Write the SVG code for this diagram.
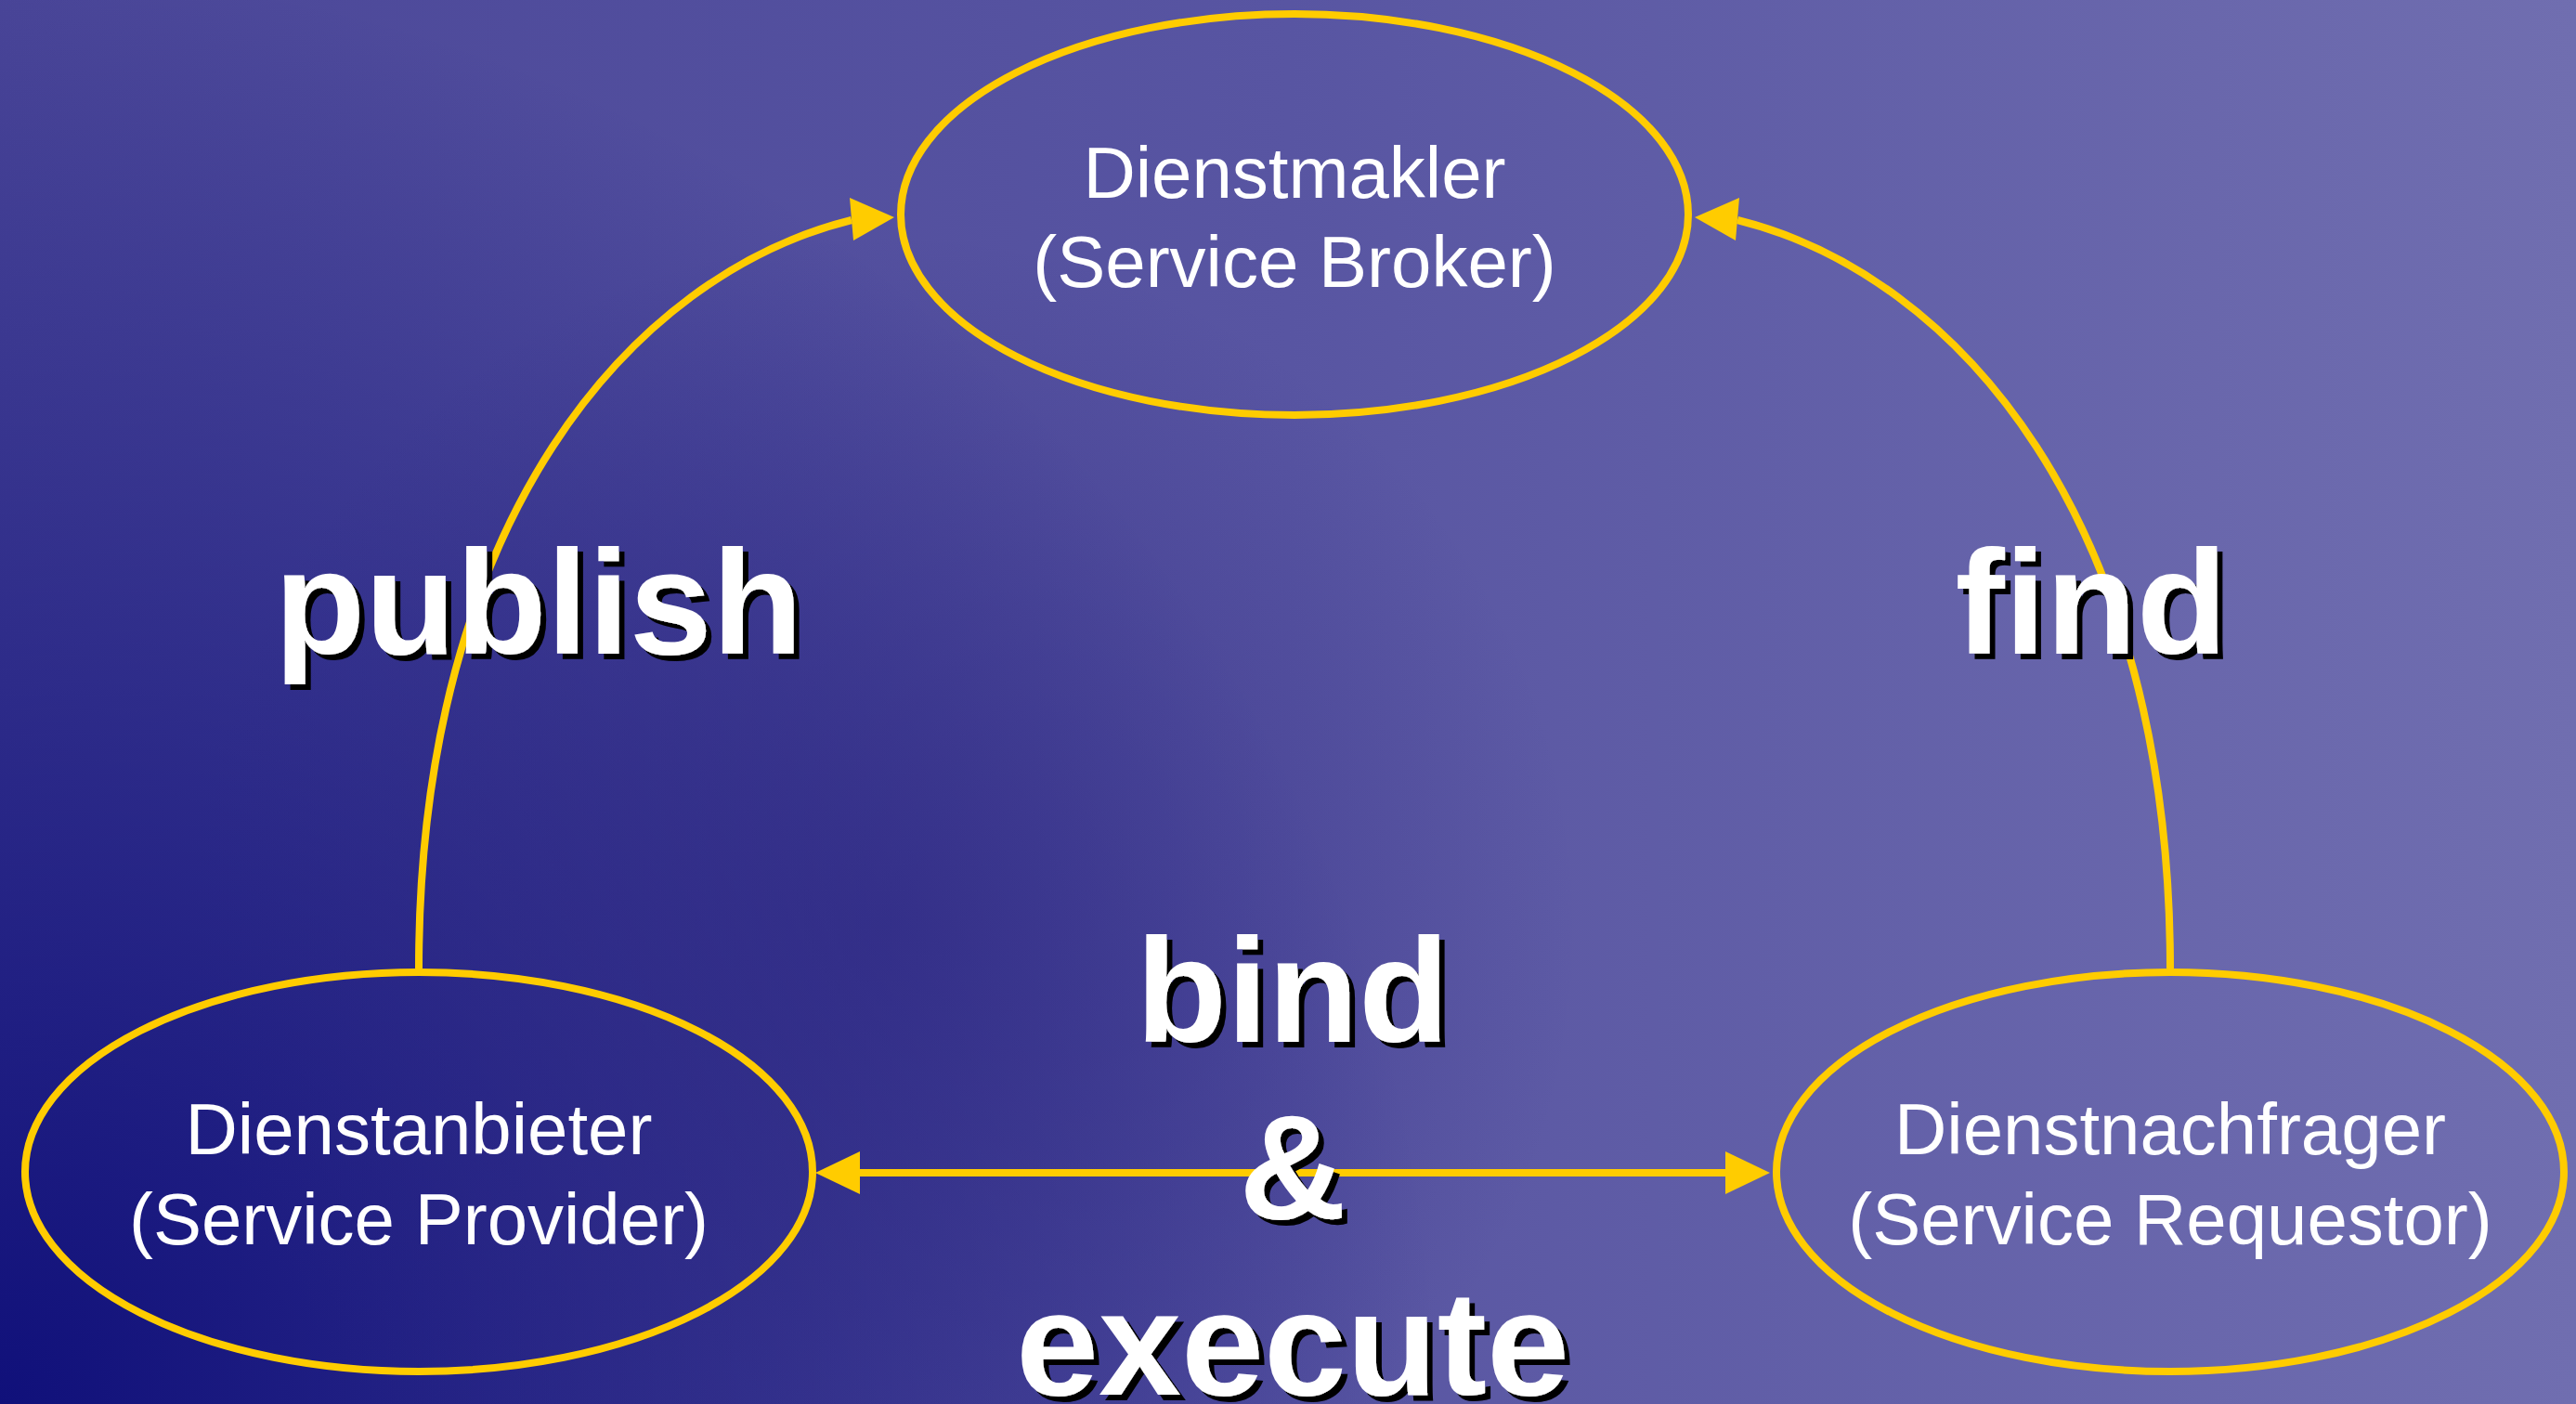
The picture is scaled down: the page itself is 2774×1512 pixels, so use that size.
<svg xmlns="http://www.w3.org/2000/svg" width="2774" height="1512" viewBox="0 0 2774 1512">
  <defs>
    <linearGradient id="bgBase" x1="0" y1="0" x2="2774" y2="0" gradientUnits="userSpaceOnUse">
      <stop offset="0" stop-color="#4a4698"/>
      <stop offset="0.5" stop-color="#5855a2"/>
      <stop offset="1" stop-color="#706eb0"/>
    </linearGradient>
    <radialGradient id="bgCorner" cx="0" cy="1512" r="1550" gradientUnits="userSpaceOnUse">
      <stop offset="0" stop-color="#10107a" stop-opacity="1"/>
      <stop offset="1" stop-color="#10107a" stop-opacity="0"/>
    </radialGradient>
    <radialGradient id="bgBlob" cx="950" cy="1000" r="750" gradientUnits="userSpaceOnUse">
      <stop offset="0" stop-color="#2a2480" stop-opacity="0.55"/>
      <stop offset="1" stop-color="#2a2480" stop-opacity="0"/>
    </radialGradient>
    <filter id="shadow" x="-10%" y="-10%" width="130%" height="130%">
      <feOffset in="SourceAlpha" dx="6" dy="6" result="off"/>
      <feMerge>
        <feMergeNode in="off"/>
        <feMergeNode in="SourceGraphic"/>
      </feMerge>
    </filter>
  </defs>
  <style>
    .node { fill: none; stroke: #ffcc00; stroke-width: 8; }
    .ntext { font-family: "Liberation Sans", Arial, sans-serif; font-size: 78px; fill: #ffffff; text-anchor: middle; }
    .conn { fill: none; stroke: #ffcc00; stroke-width: 8; }
    .head { fill: #ffcc00; stroke: none; }
    .label { font-family: "Liberation Sans", Arial, sans-serif; font-weight: bold; font-size: 160px; fill: #ffffff; text-anchor: middle; filter: url(#shadow); }
  </style>

  <rect x="0" y="0" width="2774" height="1512" fill="url(#bgBase)"/>
  <rect x="0" y="0" width="2774" height="1512" fill="url(#bgCorner)"/>
  <rect x="0" y="0" width="2774" height="1512" fill="url(#bgBlob)"/>

  <g id="connectors">
    <path class="conn" d="M451,1043 C451,560 680,296 917,237"/>
    <polygon class="head" points="963,234 915,213 919,259"/>
    <path class="conn" d="M2337,1043 C2337,560 2108,296 1871,237"/>
    <polygon class="head" points="1825,234 1873,213 1869,259"/>
    <line class="conn" x1="924" y1="1263" x2="1860" y2="1263"/>
    <polygon class="head" points="878,1263 926,1240 926,1286"/>
    <polygon class="head" points="1906,1263 1858,1240 1858,1286"/>
  </g>

  <g id="broker">
    <ellipse class="node" cx="1394" cy="231" rx="424" ry="216"/>
    <text class="ntext" x="1394" y="213">Dienstmakler</text>
    <text class="ntext" x="1394" y="309">(Service Broker)</text>
  </g>

  <g id="provider">
    <ellipse class="node" cx="451" cy="1262" rx="424" ry="215"/>
    <text class="ntext" x="451" y="1243">Dienstanbieter</text>
    <text class="ntext" x="451" y="1340">(Service Provider)</text>
  </g>

  <g id="requestor">
    <ellipse class="node" cx="2337" cy="1262" rx="424" ry="215"/>
    <text class="ntext" x="2337" y="1243">Dienstnachfrager</text>
    <text class="ntext" x="2337" y="1340">(Service Requestor)</text>
  </g>

  <g id="labels">
    <text class="label" x="580" y="704">publish</text>
    <text class="label" x="2252" y="704">find</text>
    <text class="label" x="1392" y="1122">bind</text>
    <text class="label" x="1392" y="1312">&amp;</text>
    <text class="label" x="1392" y="1502">execute</text>
  </g>
</svg>
